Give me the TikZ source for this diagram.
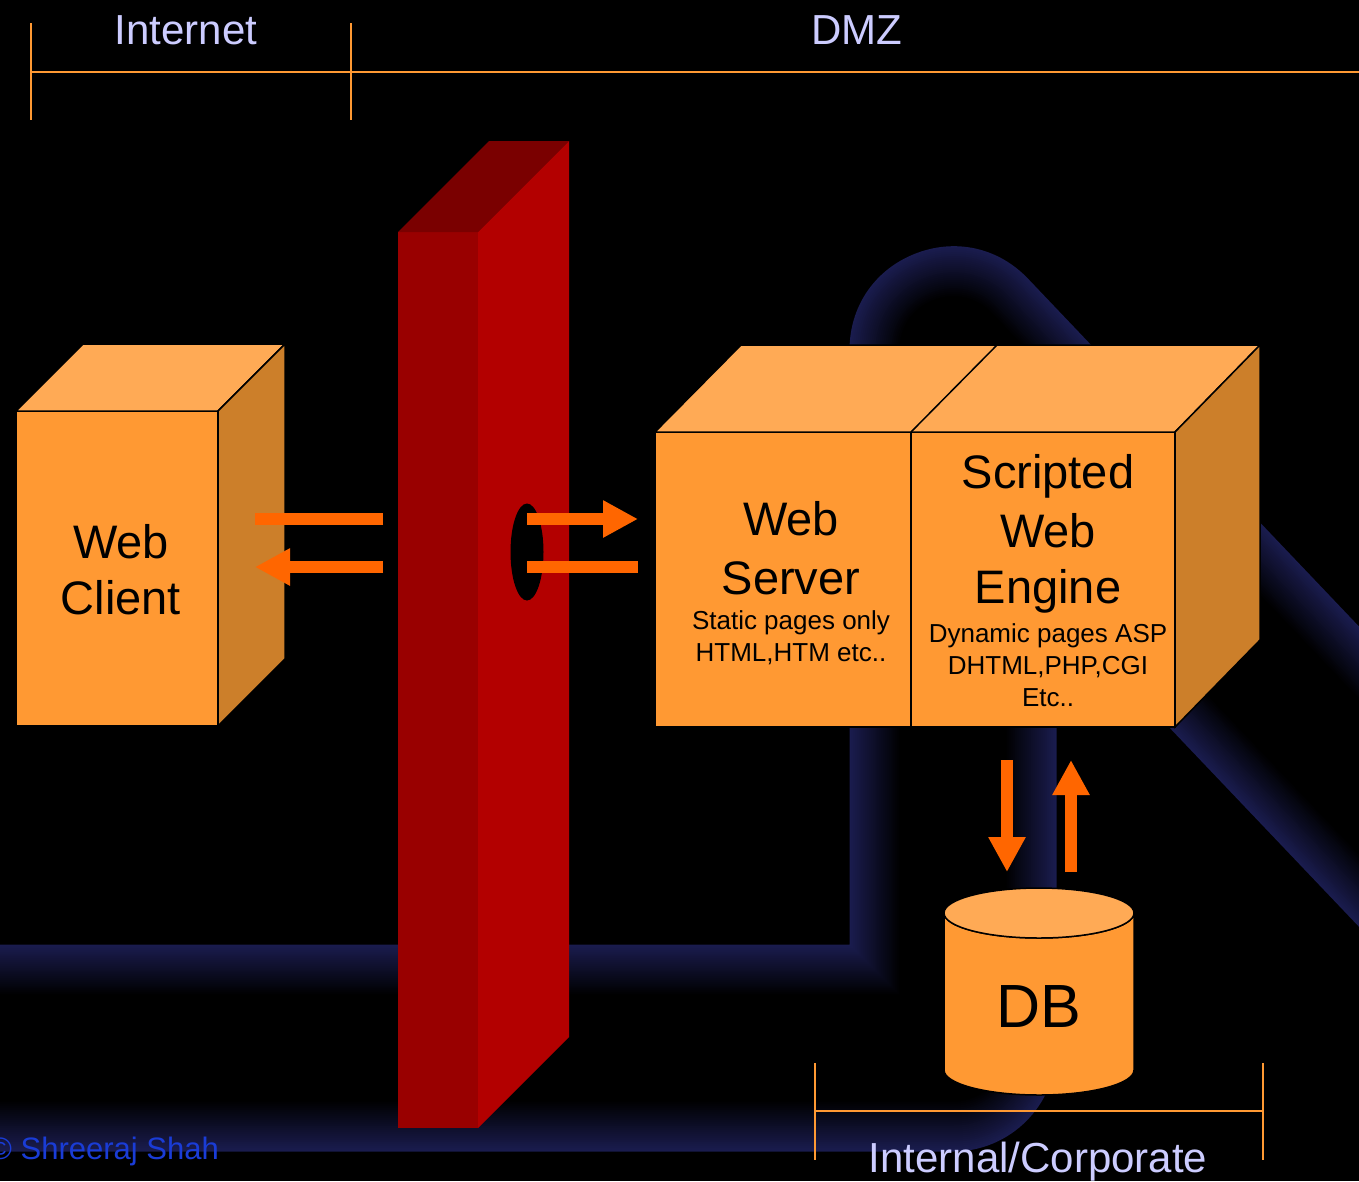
\documentclass[tikz,border=0pt]{standalone}
\usepackage{fontspec}
\setmainfont{Liberation Sans}
\usetikzlibrary{arrows.meta}
\definecolor{boxfront}{RGB}{255,153,51}
\definecolor{boxtop}{RGB}{255,170,85}
\definecolor{boxside}{RGB}{204,127,42}
\definecolor{fwfront}{RGB}{153,0,0}
\definecolor{fwside}{RGB}{179,0,0}
\definecolor{fwtop}{RGB}{122,0,0}
\definecolor{arrowor}{RGB}{255,102,0}
\definecolor{brk}{RGB}{255,153,51}
\definecolor{lav}{RGB}{204,204,255}
\definecolor{copyblue}{RGB}{26,60,214}
\definecolor{tubeedge}{RGB}{26,28,78}
\begin{document}
\begin{tikzpicture}[x=1pt,y=-1pt,
  face/.style={draw=black,line width=1.5pt,line join=miter},
  bar/.style={draw=arrowor,line width=12pt},
  headtip/.style={-{Triangle[length=35pt,width=35pt]}},
  bigtext/.style={font=\fontsize{47}{56}\selectfont,text=black,inner sep=0pt,anchor=base},
  smalltext/.style={font=\fontsize{26}{31}\selectfont,text=black,inner sep=0pt,anchor=base},
  zonetext/.style={font=\fontsize{42}{50}\selectfont,text=lav,inner sep=0pt,anchor=base},
  bracket/.style={draw=brk,line width=2pt}]
\useasboundingbox (0,0) rectangle (1359,1181);
\fill[black] (0,0) rectangle (1359,1181);
\clip (0,0) rectangle (1359,1181);

% background tube (shaded by concentric strokes)
\foreach \i in {0,...,30}{
  \pgfmathsetmacro{\w}{207-\i*4}
  \pgfmathtruncatemacro{\p}{max(0,100-\i*4)}
  \draw[line width=\w pt,color=tubeedge!\p!black,line join=round] (-60,1048) -- (953,1048) -- (953,350) -- (1700,1135);
}

% zone brackets
\draw[bracket] (31,23) -- (31,120);
\draw[bracket] (351,23) -- (351,120);
\draw[bracket] (31,72) -- (1359,72);
\draw[bracket] (815,1063) -- (815,1160);
\draw[bracket] (1263,1063) -- (1263,1160);
\draw[bracket] (815,1111) -- (1263,1111);
\node[zonetext] (internet) at (186,44) {Internet};
\node[zonetext] (dmz) at (857,44) {DMZ};
\node[zonetext] (corp) at (1038,1172) {Internal/Corporate};

% firewall
\fill[fwfront] (398,232) rectangle (478,1128);
\fill[fwtop] (398,232) -- (489,141) -- (569,141) -- (478,232) -- cycle;
\fill[fwside] (478,232) -- (569,141) -- (569,1037) -- (478,1128) -- cycle;
\fill[black] (527,552) ellipse [x radius=16.5, y radius=48.5];

% web client box
\filldraw[face,fill=boxfront] (16,411) rectangle (218,726);
\filldraw[face,fill=boxtop] (16,411) -- (83,344) -- (285,344) -- (218,411) -- cycle;
\filldraw[face,fill=boxside] (218,411) -- (285,344) -- (285,659) -- (218,726) -- cycle;
\node[bigtext] (wc1) at (121,558) {Web};
\node[bigtext] (wc2) at (121,614) {Client};

% server box
\filldraw[face,fill=boxfront] (655,432) rectangle (911,727);
\filldraw[face,fill=boxfront] (911,432) rectangle (1175,727);
\filldraw[face,fill=boxtop] (655,432) -- (741,345) -- (1260,345) -- (1175,432) -- cycle;
\draw[face] (911,432) -- (997,345);
\filldraw[face,fill=boxside] (1175,432) -- (1260,345) -- (1260,640) -- (1175,727) -- cycle;
\node[bigtext] (ws1) at (791,535) {Web};
\node[bigtext] (ws2) at (791,594) {Server};
\node[smalltext] (ws3) at (791,629) {Static pages only};
\node[smalltext] (ws4) at (791,661) {HTML,HTM etc..};
\node[bigtext] (se1) at (1048,488) {Scripted};
\node[bigtext] (se2) at (1048,547) {Web};
\node[bigtext] (se3) at (1048,603) {Engine};
\node[smalltext] (se4) at (1048,642) {Dynamic pages ASP};
\node[smalltext] (se5) at (1048,674) {DHTML,PHP,CGI};
\node[smalltext] (se6) at (1048,706) {Etc..};

% database
\filldraw[face,fill=boxfront] (944,913) -- (944,1070) arc[start angle=180,end angle=0,x radius=95,y radius=25] -- (1134,913) arc[start angle=0,end angle=180,x radius=95,y radius=25] -- cycle;
\filldraw[face,fill=boxtop] (1039,913) ellipse [x radius=95, y radius=25];
\node[font=\fontsize{61}{70}\selectfont,inner sep=0pt,anchor=base] (db) at (1039,1027) {DB};

% arrows
\coordinate (a1s) at (383,519); \coordinate (a1e) at (255,519);
\coordinate (a2s) at (383,567); \coordinate (a2e) at (255,567);
\coordinate (a3s) at (527,519); \coordinate (a3e) at (638,519);
\coordinate (a4s) at (527,567); \coordinate (a4e) at (638,567);
\coordinate (a5s) at (1007,760); \coordinate (a5e) at (1007,872);
\coordinate (a6s) at (1071,872); \coordinate (a6e) at (1071,760);
\draw[bar] (a1s) -- (a1e);
\draw[bar,headtip,arrowor] (a2s) -- (a2e);
\draw[bar,headtip,arrowor] (a3s) -- (a3e);
\draw[bar] (a4s) -- (a4e);
\draw[bar,headtip,arrowor] (a5s) -- (a5e);
\draw[bar,headtip,arrowor] (a6s) -- (a6e);

% copyright
\node[anchor=base west,font=\fontsize{31}{36}\selectfont,text=copyblue,inner sep=0pt] (copy) at (-11,1159) {© Shreeraj Shah};
\end{tikzpicture}
\end{document}
